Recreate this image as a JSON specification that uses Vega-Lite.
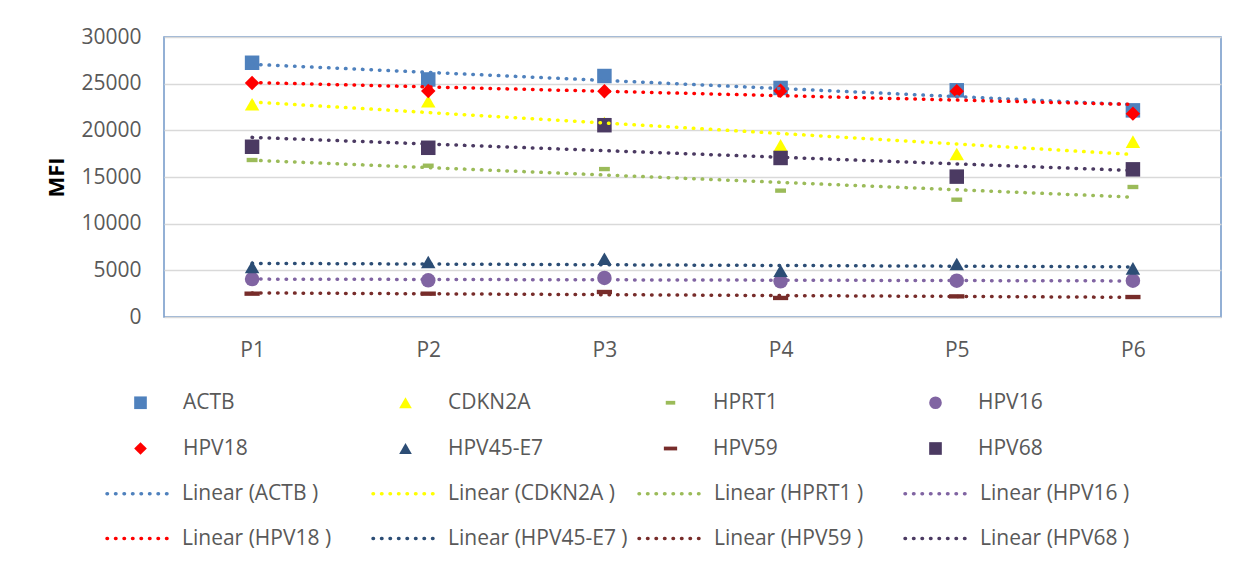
{
  "$schema": "https://vega.github.io/schema/vega-lite/v6.json",
  "width": 1057,
  "height": 280,
  "autosize": {"type": "none"},
  "padding": {"left": 164, "top": 37, "right": 27, "bottom": 247},
  "background": "white",
  "config": {
    "font": "Open Sans",
    "view": {"stroke": "#7096c8", "strokeWidth": 1.5},
    "legend": {
      "padding": 0,
      "labelFont": "Open Sans",
      "labelFontSize": 21,
      "labelColor": "#595959",
      "labelLimit": 400,
      "gridAlign": "all",
      "direction": "horizontal"
    }
  },
  "data": {
    "values": [
      {"gene": "ACTB", "trend": "Linear (ACTB )", "idx": 1, "MFI": 27240},
      {"gene": "ACTB", "trend": "Linear (ACTB )", "idx": 2, "MFI": 25450},
      {"gene": "ACTB", "trend": "Linear (ACTB )", "idx": 3, "MFI": 25820},
      {"gene": "ACTB", "trend": "Linear (ACTB )", "idx": 4, "MFI": 24540},
      {"gene": "ACTB", "trend": "Linear (ACTB )", "idx": 5, "MFI": 24290},
      {"gene": "ACTB", "trend": "Linear (ACTB )", "idx": 6, "MFI": 22140},
      {"gene": "CDKN2A", "trend": "Linear (CDKN2A )", "idx": 1, "MFI": 22790},
      {"gene": "CDKN2A", "trend": "Linear (CDKN2A )", "idx": 2, "MFI": 23110},
      {"gene": "CDKN2A", "trend": "Linear (CDKN2A )", "idx": 3, "MFI": 20800},
      {"gene": "CDKN2A", "trend": "Linear (CDKN2A )", "idx": 4, "MFI": 18390},
      {"gene": "CDKN2A", "trend": "Linear (CDKN2A )", "idx": 5, "MFI": 17460},
      {"gene": "CDKN2A", "trend": "Linear (CDKN2A )", "idx": 6, "MFI": 18790},
      {"gene": "HPRT1", "trend": "Linear (HPRT1 )", "idx": 1, "MFI": 16820},
      {"gene": "HPRT1", "trend": "Linear (HPRT1 )", "idx": 2, "MFI": 16210},
      {"gene": "HPRT1", "trend": "Linear (HPRT1 )", "idx": 3, "MFI": 15850},
      {"gene": "HPRT1", "trend": "Linear (HPRT1 )", "idx": 4, "MFI": 13540},
      {"gene": "HPRT1", "trend": "Linear (HPRT1 )", "idx": 5, "MFI": 12570},
      {"gene": "HPRT1", "trend": "Linear (HPRT1 )", "idx": 6, "MFI": 13930},
      {"gene": "HPV16", "trend": "Linear (HPV16 )", "idx": 1, "MFI": 4070},
      {"gene": "HPV16", "trend": "Linear (HPV16 )", "idx": 2, "MFI": 3930},
      {"gene": "HPV16", "trend": "Linear (HPV16 )", "idx": 3, "MFI": 4180},
      {"gene": "HPV16", "trend": "Linear (HPV16 )", "idx": 4, "MFI": 3820},
      {"gene": "HPV16", "trend": "Linear (HPV16 )", "idx": 5, "MFI": 3890},
      {"gene": "HPV16", "trend": "Linear (HPV16 )", "idx": 6, "MFI": 3890},
      {"gene": "HPV18", "trend": "Linear (HPV18 )", "idx": 1, "MFI": 25070},
      {"gene": "HPV18", "trend": "Linear (HPV18 )", "idx": 2, "MFI": 24220},
      {"gene": "HPV18", "trend": "Linear (HPV18 )", "idx": 3, "MFI": 24180},
      {"gene": "HPV18", "trend": "Linear (HPV18 )", "idx": 4, "MFI": 24250},
      {"gene": "HPV18", "trend": "Linear (HPV18 )", "idx": 5, "MFI": 24180},
      {"gene": "HPV18", "trend": "Linear (HPV18 )", "idx": 6, "MFI": 21790},
      {"gene": "HPV45-E7", "trend": "Linear (HPV45-E7 )", "idx": 1, "MFI": 5360},
      {"gene": "HPV45-E7", "trend": "Linear (HPV45-E7 )", "idx": 2, "MFI": 5890},
      {"gene": "HPV45-E7", "trend": "Linear (HPV45-E7 )", "idx": 3, "MFI": 6250},
      {"gene": "HPV45-E7", "trend": "Linear (HPV45-E7 )", "idx": 4, "MFI": 4960},
      {"gene": "HPV45-E7", "trend": "Linear (HPV45-E7 )", "idx": 5, "MFI": 5680},
      {"gene": "HPV45-E7", "trend": "Linear (HPV45-E7 )", "idx": 6, "MFI": 5210},
      {"gene": "HPV59", "trend": "Linear (HPV59 )", "idx": 1, "MFI": 2500},
      {"gene": "HPV59", "trend": "Linear (HPV59 )", "idx": 2, "MFI": 2500},
      {"gene": "HPV59", "trend": "Linear (HPV59 )", "idx": 3, "MFI": 2680},
      {"gene": "HPV59", "trend": "Linear (HPV59 )", "idx": 4, "MFI": 2040},
      {"gene": "HPV59", "trend": "Linear (HPV59 )", "idx": 5, "MFI": 2210},
      {"gene": "HPV59", "trend": "Linear (HPV59 )", "idx": 6, "MFI": 2140},
      {"gene": "HPV68", "trend": "Linear (HPV68 )", "idx": 1, "MFI": 18240},
      {"gene": "HPV68", "trend": "Linear (HPV68 )", "idx": 2, "MFI": 18130},
      {"gene": "HPV68", "trend": "Linear (HPV68 )", "idx": 3, "MFI": 20550},
      {"gene": "HPV68", "trend": "Linear (HPV68 )", "idx": 4, "MFI": 17040},
      {"gene": "HPV68", "trend": "Linear (HPV68 )", "idx": 5, "MFI": 15040},
      {"gene": "HPV68", "trend": "Linear (HPV68 )", "idx": 6, "MFI": 15820}
    ]
  },
  "encoding": {
    "x": {
      "field": "idx",
      "type": "quantitative",
      "scale": {"domain": [0.5, 6.5], "nice": false, "zero": false},
      "axis": {
        "title": null,
        "values": [1, 2, 3, 4, 5, 6],
        "labelExpr": "'P' + datum.value",
        "grid": false,
        "ticks": false,
        "domain": false,
        "labelPadding": 22,
        "labelFontSize": 21,
        "labelColor": "#595959",
        "labelFont": "Open Sans"
      }
    },
    "y": {
      "field": "MFI",
      "type": "quantitative",
      "scale": {"domain": [0, 30000], "nice": false},
      "axis": {
        "title": "MFI",
        "titleFont": "Open Sans",
        "titleFontSize": 22,
        "titleFontWeight": "bold",
        "titleColor": "#000000",
        "titlePadding": 12,
        "values": [0, 5000, 10000, 15000, 20000, 25000, 30000],
        "format": "d",
        "grid": true,
        "gridColor": "#d9d9d9",
        "gridWidth": 1.5,
        "ticks": false,
        "domain": false,
        "labelPadding": 23,
        "labelFontSize": 21,
        "labelColor": "#595959",
        "labelFont": "Open Sans"
      }
    }
  },
  "layer": [
    {
      "mark": {"type": "point", "filled": true, "size": 210, "opacity": 1, "strokeWidth": 0},
      "encoding": {
        "fill": {
          "field": "gene",
          "type": "nominal",
          "scale": {
            "domain": ["ACTB", "CDKN2A", "HPRT1", "HPV16", "HPV18", "HPV45-E7", "HPV59", "HPV68"],
            "range": ["#4f81bd", "#ffff00", "#9bbb59", "#8064a2", "#ff0000", "#2c4d75", "#772c2a", "#4b3a62"]
          },
          "legend": {
            "title": null,
            "orient": "none",
            "legendX": -34,
            "legendY": 355,
            "columns": 4,
            "columnPadding": 116,
            "rowPadding": 24,
            "symbolSize": 160,
            "symbolStrokeWidth": 0,
            "symbolOpacity": 1,
            "labelOffset": 32
          }
        },
        "shape": {
          "field": "gene",
          "type": "nominal",
          "scale": {
            "domain": ["ACTB", "CDKN2A", "HPRT1", "HPV16", "HPV18", "HPV45-E7", "HPV59", "HPV68"],
            "range": ["square", "triangle-up", "M-0.75,-0.3H0.75V0.3H-0.75Z", "circle", "diamond", "triangle-up", "M-1.05,-0.3H1.05V0.3H-1.05Z", "square"]
          },
          "legend": {
            "title": null,
            "orient": "none",
            "legendX": -34,
            "legendY": 355,
            "columns": 4,
            "columnPadding": 116,
            "rowPadding": 24,
            "symbolSize": 160,
            "symbolStrokeWidth": 0,
            "symbolOpacity": 1,
            "labelOffset": 32
          }
        }
      }
    },
    {
      "transform": [
        {"regression": "MFI", "on": "idx", "groupby": ["gene", "trend"]}
      ],
      "mark": {"type": "line", "strokeWidth": 3.5, "strokeDash": [0.5, 8], "strokeCap": "round"},
      "encoding": {
        "stroke": {
          "field": "trend",
          "type": "nominal",
          "scale": {
            "domain": ["Linear (ACTB )", "Linear (CDKN2A )", "Linear (HPRT1 )", "Linear (HPV16 )", "Linear (HPV18 )", "Linear (HPV45-E7 )", "Linear (HPV59 )", "Linear (HPV68 )"],
            "range": ["#4f81bd", "#ffff00", "#9bbb59", "#8064a2", "#ff0000", "#2c4d75", "#772c2a", "#4b3a62"]
          },
          "legend": {
            "title": null,
            "orient": "none",
            "legendX": -59,
            "legendY": 422,
            "columns": 4,
            "columnPadding": 4,
            "rowPadding": -20,
            "symbolType": "stroke",
            "symbolSize": 4225,
            "symbolStrokeWidth": 3.5,
            "symbolDash": [0.5, 8],
            "labelOffset": 8,
            "encode": {"symbols": {"update": {"strokeCap": {"value": "round"}}}}
          }
        }
      }
    }
  ]
}
